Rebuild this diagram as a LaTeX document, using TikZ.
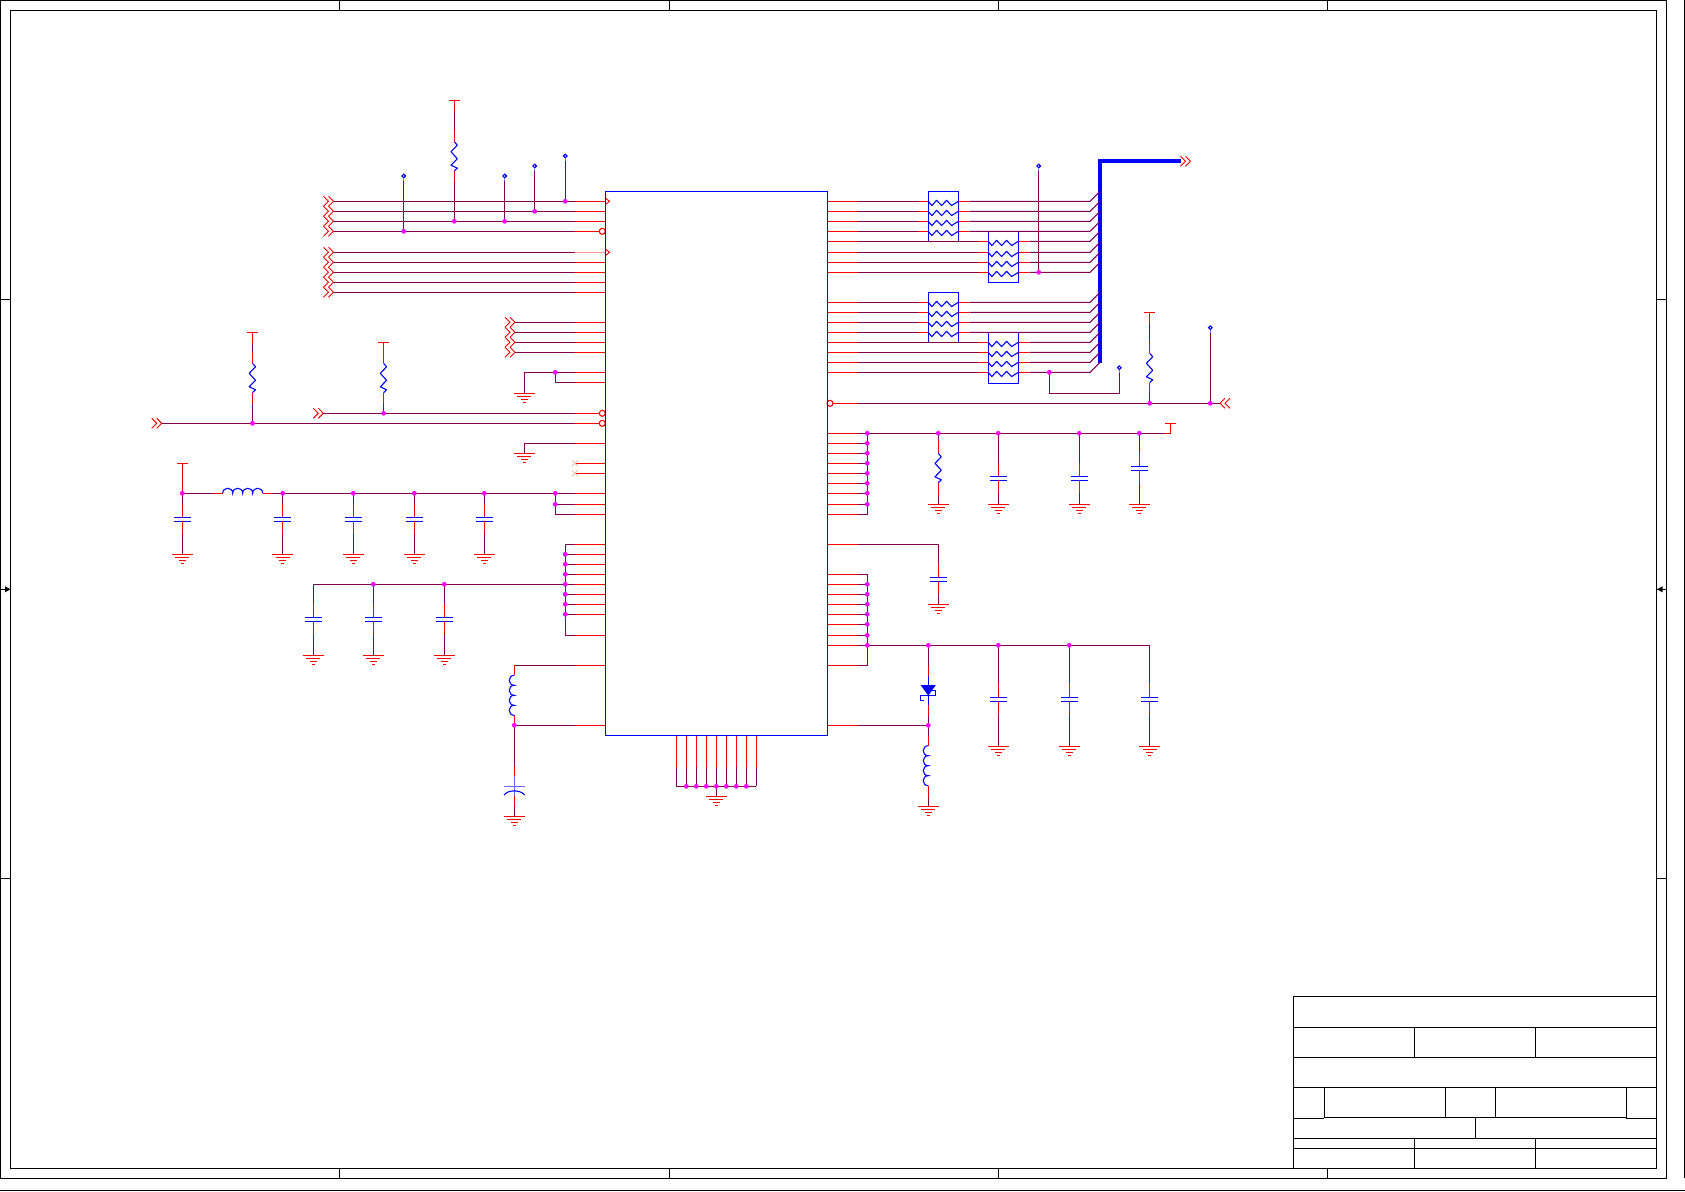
\documentclass[tikz,border=0pt]{standalone}
\usetikzlibrary{calc}
\pgfdeclarelayer{top}
\pgfsetlayers{main,top}
\definecolor{wirepurple}{HTML}{7F0050}
\definecolor{pinsalmon}{HTML}{FF9A9A}
\definecolor{juncpink}{RGB}{255,0,255}
\definecolor{pureblue}{RGB}{0,0,255}
\definecolor{purered}{RGB}{255,0,0}
\tikzset{
  rw/.style={draw=purered,line width=1.1pt},
  pw/.style={draw=wirepurple,line width=1.1pt,line join=miter},
  bw/.style={draw=pureblue,line width=1.1pt},
  fw/.style={draw=black,line width=1pt},
  junc/.style={circle,fill=juncpink,inner sep=0pt,outer sep=0pt,minimum size=4.8pt,draw=none},
  icbox/.style={draw=pureblue,line width=1.1pt,inner sep=0pt,outer sep=0pt,minimum width=222pt,minimum height=544pt,anchor=north west},
}
% red stub of n from A, purple from there to B
\newcommand\wrp[3]{\draw[rw] (#1) -- ($(#1)!#3pt!(#2)$) coordinate (tmpc); \draw[pw] (tmpc) -- (#2);}
% red n from A, purple, red m to B
\newcommand\wrpr[4]{\draw[rw] (#1) -- ($(#1)!#3pt!(#2)$) coordinate (tmpc); \draw[rw] (#2) -- ($(#2)!#4pt!(#1)$) coordinate (tmpd); \draw[pw] (tmpc) -- (tmpd);}
\newcommand\jn[3]{\coordinate (#1) at (#2,#3); \begin{pgfonlayer}{top}\node[junc] (d#1) at (#2,#3) {};\end{pgfonlayer}}
\newcommand\sGnd[3]{\coordinate (#1) at (#2,#3);
  \draw[rw,shift={(#2,#3)}] (-10.5,0)--(10.5,0) (-7,3)--(7,3) (-3.7,6)--(3.7,6) (-1.3,9)--(1.3,9);}
\newcommand\sPwr[3]{\coordinate (#1) at (#2,#3); \draw[rw,shift={(#2,#3)}] (-5.3,0)--(5.3,0);}
\newcommand\sCap[3]{\coordinate (#1t) at (#2,#3); \coordinate (#1b) at (#2,#3+4);
  \draw[bw,shift={(#2,#3)}] (-8.5,0)--(8.5,0) (-8.5,4)--(8.5,4);}
\newcommand\sRes[3]{\coordinate (#1t) at (#2,#3); \coordinate (#1b) at (#2,#3+29.3);
  \draw[bw,line join=round,shift={(#2,#3)}] (0,0)--(3,3.5)--(-3.3,10)--(3,17)--(-3.3,23.5)--(3,26.5)--(0,29.3);}
\newcommand\sProbe[3]{\coordinate (#1) at (#2,#3+5);
  \draw[bw,shift={(#2,#3)}] (0,0) circle[radius=1.8pt];
  \draw[draw=pureblue!55,line width=1pt,shift={(#2,#3)}] (0,1.8)--(0,5);}
\newcommand\sChevR[3]{\coordinate (#1) at (#2,#3);
  \draw[rw,line width=.95pt,shift={(#2,#3)}] (-10,-5)--(-5,0)--(-10,5) (-5,-5)--(0,0)--(-5,5);}
\newcommand\sChevL[3]{\coordinate (#1) at (#2,#3);
  \draw[rw,line width=.95pt,shift={(#2,#3)}] (5,-5)--(0,0)--(5,5) (10,-5)--(5,0)--(10,5);}
\newcommand\sIndH[3]{\coordinate (#1l) at (#2,#3); \coordinate (#1r) at (#2+40,#3);
  \draw[bw,shift={(#2,#3)}] (0,0) .. controls (0,-6.7) and (10,-6.7) .. (10,0) .. controls (10,-6.7) and (20,-6.7) .. (20,0) .. controls (20,-6.7) and (30,-6.7) .. (30,0) .. controls (30,-6.7) and (40,-6.7) .. (40,0);}
\newcommand\sIndV[3]{\coordinate (#1t) at (#2,#3); \coordinate (#1b) at (#2,#3+40);
  \draw[bw,shift={(#2,#3)}] (0,0) .. controls (-6.7,0) and (-6.7,10) .. (0,10) .. controls (-6.7,10) and (-6.7,20) .. (0,20) .. controls (-6.7,20) and (-6.7,30) .. (0,30) .. controls (-6.7,30) and (-6.7,40) .. (0,40);}
\newcommand\sWave[1]{\draw[bw,line join=round,shift={(#1)}] (0,0)--(3.5,4.3)--(8.3,-1)--(13.3,4.3)--(18.3,-1)--(23.3,4.3)--(30,0);}
% one row through a resistor pack: row, pack name
\newcommand\rnrow[2]{%
  \coordinate (rowl) at (#2l |- pr#1);
  \coordinate (rowr) at (#2r |- pr#1);
  \coordinate (rowe) at (busin |- pr#1);
  \draw[pw] (qr#1) -- ($(rowl)+(-10,0)$);
  \draw[rw] ($(rowl)+(-10,0)$) -- (rowl);
  \draw[rw] (rowr) -- ($(rowr)+(11,0)$);
  \draw[pw] ($(rowr)+(11,0)$) -- (rowe) -- ++(10,-10);
  \sWave{rowl}}
\begin{document}
\begin{tikzpicture}[x=1pt,y=-1pt]
\useasboundingbox (0,0) rectangle (1685,1191);
\fill[white] (0,0) rectangle (1685,1191);

%% frame
\draw[fw] (0.5,0.5) rectangle (1666.3,1178.3);
\draw[fw] (10.5,10.5) rectangle (1656.3,1168.3);
\draw[fw] (1684.5,0) -- (1684.5,1178);
\draw[fw] (0,1190.5) -- (1685,1190.5);
\foreach \x in {339.5,669.5,998.5,1327.3}{
  \draw[fw] (\x,0.5)--(\x,10.5);
  \draw[fw] (\x,1168.3)--(\x,1178.3);}
\foreach \y in {299,878}{
  \draw[fw] (0.5,\y)--(10.5,\y);
  \draw[fw] (1656.3,\y)--(1666.3,\y);}
\draw[fw] (0.5,589.3)--(11,589.3);
\fill[black] (5,586.3)--(10.5,589.3)--(5,592.3)--cycle;
\draw[fw] (1656.3,589.3)--(1666.3,589.3);
\fill[black] (1657,589.3)--(1662.5,586.3)--(1662.5,592.3)--cycle;

%% title block
\draw[fw] (1293.3,996.3) rectangle (1656.3,1168.3);
\draw[fw] (1293.3,1027.3)--(1656.3,1027.3);
\draw[fw] (1293.3,1057.3)--(1656.3,1057.3);
\draw[fw] (1293.3,1087.3)--(1656.3,1087.3);
\draw[fw] (1324.3,1117.3)--(1626.3,1117.3);
\draw[fw] (1293.3,1118.3)--(1324.3,1118.3);
\draw[fw] (1626.3,1118.3)--(1656.3,1118.3);
\draw[fw] (1293.3,1138.3)--(1656.3,1138.3);
\draw[fw] (1293.3,1148.3)--(1656.3,1148.3);
\draw[fw] (1414.3,1027.3)--(1414.3,1057.3);
\draw[fw] (1535.3,1027.3)--(1535.3,1057.3);
\draw[fw] (1324.3,1087.3)--(1324.3,1118.3);
\draw[fw] (1445.3,1087.3)--(1445.3,1117.3);
\draw[fw] (1495.3,1087.3)--(1495.3,1117.3);
\draw[fw] (1626.3,1087.3)--(1626.3,1118.3);
\draw[fw] (1475.3,1118.3)--(1475.3,1138.3);
\draw[fw] (1414.3,1138.3)--(1414.3,1168.3);
\draw[fw] (1535.3,1138.3)--(1535.3,1168.3);

%% pins
\foreach \y in {201,211,221,231,252,262,272,282,292,322,332,342,352,372,382,413,423,443,463,473,493,504,514,544,554,564,574,584,594,604,614,635,665,725}{
  \coordinate (pl\y) at (605.5,\y.3);
  \coordinate (ql\y) at (575,\y.3);
  \draw[rw] (pl\y)--(ql\y);}
\foreach \y in {201,211,221,231,241,252,262,272,302,312,322,332,342,352,362,372,403,433,443,453,463,473,483,493,504,514,544,574,584,594,604,614,624,635,645,665,725}{
  \coordinate (pr\y) at (827.5,\y.3);
  \coordinate (qr\y) at (858,\y.3);
  \draw[rw] (pr\y)--(qr\y);}
\draw[draw=pinsalmon,line width=1.1pt] (pl252)--(ql252);
\foreach \x in {676.3,686.3,696.3,706.3,716.3,726.3,736.3,746.3,756.3}{
  \draw[rw] (\x,735.5)--(\x,766.7);
  \draw[pw] (\x,766.7)--(\x,786.3);}

%% left buses
\foreach \y in {201,211,221,231,252,262,272,282,292}{
  \sChevR{c\y}{333.5}{\y.3}
  \draw[pw] (ql\y)--(c\y);}
\foreach \y in {322,332,342,352}{
  \sChevR{c\y}{515}{\y.3}
  \draw[pw] (ql\y)--(c\y);}
\sChevR{c413}{323.3}{413.3} \draw[pw] (ql413)--(c413);
\sChevR{c423}{161.7}{423.3} \draw[pw] (ql423)--(c423);
\foreach \y in {201,252}{
  \draw[rw,line width=.95pt] (605.5,\y.3-3.2)--(609.5,\y.3)--(605.5,\y.3+3.2);}
\foreach \y in {231,413,423}{
  \draw[rw,fill=white] (602.3,\y.3) circle[radius=3pt];}

%% probes and pull-up on top buses
\jn{ja}{403.7}{231.3} \sProbe{pa}{403.7}{176} \draw[pw] (pa)--(ja);
\jn{jb}{504.7}{221.3} \sProbe{pb}{504.7}{176} \draw[pw] (pb)--(jb);
\jn{jc}{534.7}{211.3} \sProbe{pc}{534.7}{166} \draw[pw] (pc)--(jc);
\jn{jd}{565.3}{201.3}   \sProbe{pd}{565.3}{156}   \draw[pw] (pd)--(jd);
\jn{je}{454.3}{221.3} \sPwr{te}{454.3}{100.3} \sRes{re}{454.3}{141.7}
\wrpr{te}{ret}{10.7}{11.5} \wrp{reb}{je}{10.7}

%% middle-left pull-ups
\jn{jf}{252.5}{423.3} \sPwr{tf}{252.5}{332.3} \sRes{rf}{252.5}{363.3}
\wrpr{tf}{rft}{10.5}{11.5} \wrp{rfb}{jf}{10.5}
\jn{jg}{383.6}{413.3} \sPwr{tg}{383.6}{342.3} \sRes{rg}{383.6}{363.3}
\draw[rw] (tg)--(rgt); \wrp{rgb}{jg}{10.5}

%% grounded pins
\jn{jh}{555.3}{372.3}
\coordinate (ca) at (555.3,382.3);
\coordinate (cb) at (524.3,372.3);
\sGnd{ga}{524.3}{393.3}
\draw[pw] (ql372)--(cb)--(ga);
\draw[pw] (jh)--(ca)--(ql382);
\coordinate (cc) at (524.3,443.3);
\sGnd{gb}{524.3}{453.3}
\draw[pw] (ql443)--(cc)--(gb);
\foreach \y in {463,473}{
  \draw[draw=brown!45,line width=.9pt] ($(ql\y)+(-3,-3)$)--($(ql\y)+(3,3)$) ($(ql\y)+(-3,3)$)--($(ql\y)+(3,-3)$);}

%% analog supply filter
\jn{ji}{182.3}{493.3} \sPwr{ti}{182.3}{463.3} \draw[rw] (ti)--(ji);
\sCap{ci}{182.3}{517.3} \sGnd{gi}{182.3}{554.3}
\wrp{cit}{ji}{13} \wrp{cib}{gi}{13}
\sIndH{li}{222.7}{493.3}
\wrp{lil}{ji}{10}
\jn{k1}{282.7}{493.3} \jn{k2}{353.3}{493.3} \jn{k3}{414.3}{493.3} \jn{k4}{484.3}{493.3} \jn{k5}{555.3}{493.3} \jn{k6}{555.3}{504.3}
\wrp{lir}{k1}{10}
\draw[pw] (k1)--(k2)--(k3)--(k4)--(k5)--(ql493);
\draw[pw] (k6)--(ql504);
\coordinate (k7) at (555.3,514.3);
\draw[pw] (k5)--(k7)--(ql514);
\foreach \n/\x in {k1/282.7,k2/353.3,k3/414.3,k4/484.3}{
  \sCap{c\n}{\x}{517.3} \sGnd{g\n}{\x}{554.3}
  \wrp{c\n t}{\n}{13} \wrp{c\n b}{g\n}{13}}

%% second supply group
\coordinate (m0) at (565.3,544.3);
\coordinate (m9) at (565.3,635.3);
\draw[pw] (ql544)--(m0)--(m9)--(ql635);
\foreach \y in {554,564,574,584,594,604,614}{
  \jn{m\y}{565.3}{\y.3}
  \draw[pw] (ql\y)--(m\y);}
\jn{n1}{373.3}{584.3} \jn{n2}{444.3}{584.3}
\coordinate (n0) at (313.3,584.3);
\draw[pw] (m584)--(n2)--(n1)--(n0);
\foreach \n/\x in {n0/313.3,n1/373.3,n2/444.3}{
  \sCap{c\n}{\x}{617.3} \sGnd{g\n}{\x}{655.7}
  \wrp{c\n t}{\n}{13} \wrp{c\n b}{g\n}{13}}

%% inductor and polar cap
\coordinate (pa1) at (514.3,665.3);
\draw[pw] (ql665)--(pa1);
\sIndV{lp}{514.3}{675.3}
\draw[rw] (pa1)--(lpt);
\jn{pa2}{514.3}{725.3}
\draw[rw] (lpb)--(pa2);
\draw[pw] (ql725)--(pa2);
\coordinate (pc1) at (514.3,776.3);
\coordinate (pc2) at (514.3,796.3);
\sGnd{gp}{514.3}{816.7}
\wrp{pc1}{pa2}{10}
\draw[draw=pureblue!60,line width=1.1pt] (pc1)--(pc2);
\draw[draw=pureblue!60,line width=1.1pt] (503.8,786.3)--(524.8,786.3);
\draw[bw] (504,795) .. controls (508,789.5) and (520.5,789.5) .. (524.6,795);
\wrp{pc2}{gp}{10}

%% bottom pins ground
\coordinate (bl) at (676.3,786.3);
\coordinate (br) at (756.3,786.3);
\draw[pw] (bl)--(br);
\foreach \x/\n in {686.3/1,696.3/2,706.3/3,716.3/4,726.3/5,736.3/6,746.3/7}{
  \jn{bt\n}{\x}{786.3}}
\sGnd{gbt}{716.3}{796.3}
\draw[pw] (bt4)--(gbt);

%% right: bus and resistor packs
\coordinate (busb) at (1099.5,363.3);
\coordinate (bust) at (1099.5,161.3);
\coordinate (buse) at (1180.5,161.3);
\coordinate (busin) at (1090,201.3);
\draw[draw=pureblue,line width=4pt] (busb)--(bust)--(buse);
\sChevR{cbus}{1190.5}{161.3}
\foreach \n/\xl/\yt/\yb in {rna/928.3/191.5/241.6,rnb/988.3/231.3/282.3,rnc/928.3/292.3/342.3,rnd/988.3/332.3/383.3}{
  \coordinate (\n l) at (\xl,\yt);
  \coordinate (\n r) at (\xl+30,\yt);
  \coordinate (\n b) at (\xl+30,\yb);
  \draw[bw] (\n l) rectangle (\n b);}
\foreach \y in {201,211,221,231}{\rnrow{\y}{rna}}
\foreach \y in {241,252,262,272}{\rnrow{\y}{rnb}}
\foreach \y in {302,312,322,332}{\rnrow{\y}{rnc}}
\foreach \y in {342,352,362,372}{\rnrow{\y}{rnd}}
\jn{jp}{1038.7}{272.3} \sProbe{pp}{1038.7}{166} \draw[pw] (pp)--(jp);
\jn{jq}{1049.3}{372.3} \sProbe{pq}{1119.3}{367.7}
\coordinate (q1) at (1049.3,393.3);
\coordinate (q2) at (1119.3,393.3);
\draw[pw] (jq)--(q1)--(q2)--(pq);

%% row 403
\sChevL{cr}{1220}{403.3}
\draw[pw] (qr403)--(cr);
\jn{jr1}{1149.7}{403.3} \jn{jr2}{1210.3}{403.3}
\sPwr{tr}{1149.7}{312.3} \sRes{rr}{1149.7}{353.3}
\wrpr{tr}{rrt}{10.5}{11.5} \wrp{rrb}{jr1}{10.5}
\sProbe{prr}{1210.3}{327.7} \draw[pw] (prr)--(jr2);
\draw[rw,fill=white] (830,403.3) circle[radius=3pt];

%% right supply group 1
\foreach \y in {433,443,453,463,473,483,493,504}{
  \jn{s\y}{867.3}{\y.3}
  \draw[pw] (qr\y)--(s\y);}
\coordinate (s514) at (867.3,514.3);
\draw[pw] (s433)--(s514)--(qr514);
\jn{u1}{938.3}{433.3} \jn{u2}{998.3}{433.3} \jn{u3}{1079.3}{433.3} \jn{u4}{1139.3}{433.3}
\coordinate (uc) at (1170.3,433.3);
\coordinate (ud) at (1165.3,433.3);
\sPwr{tu}{1170.3}{423.3}
\draw[pw] (s433)--(ud);
\draw[rw] (tu)--(uc)--(ud);
\sRes{ru}{938.3}{453.3} \sGnd{gu1}{938.3}{504.3}
\wrp{rut}{u1}{12} \wrp{rub}{gu1}{12}
\foreach \n/\x/\yc in {u2/998.3/476.3,u3/1079.3/476.3,u4/1139.3/466.3}{
  \sCap{c\n}{\x}{\yc} \sGnd{g\n}{\x}{504.3}
  \wrp{c\n t}{\n}{13} \wrp{c\n b}{g\n}{13}}

%% single cap row 544
\coordinate (v0) at (938.3,544.3);
\draw[pw] (qr544)--(v0);
\sCap{cv}{938.3}{577.3} \sGnd{gv}{938.3}{604.3}
\wrp{cvt}{v0}{14} \wrp{cvb}{gv}{13}

%% right supply group 2
\coordinate (w0) at (867.3,574.3);
\coordinate (w9) at (867.3,665.3);
\draw[pw] (qr574)--(w0)--(w9)--(qr665);
\foreach \y in {584,594,604,614,624,635,645}{
  \jn{w\y}{867.3}{\y.3}
  \draw[pw] (qr\y)--(w\y);}
\jn{x1}{928.3}{645.3} \jn{x2}{998.3}{645.3} \jn{x3}{1069.3}{645.3}
\coordinate (x4) at (1149.7,645.3);
\draw[pw] (w645)--(x1)--(x2)--(x3)--(x4);
\foreach \n/\x in {x2/998.3,x3/1069.3,x4/1149.7}{
  \sCap{c\n}{\x}{697.3} \sGnd{g\n}{\x}{746.3}
  \wrp{c\n t}{\n}{14} \wrp{c\n b}{g\n}{13}}

%% zener and inductor
\jn{z0}{928.3}{725.3}
\draw[pw] (qr725)--(z0);
\coordinate (z1) at (928.3,676);
\coordinate (z2) at (928.3,705);
\wrp{z1}{x1}{10}
\wrp{z2}{z0}{11}
\draw[bw] (z1)--(z2);
\fill[pureblue] (920.6,685)--(935.8,685)--(928.3,695.7)--cycle;
\draw[bw] (924.3,700.2)--(920.8,700.2)--(920.8,695.7)--(935.5,695.7)--(935.5,690.3)--(931.7,690.3);
\sIndV{lz}{928.3}{745.7}
\sGnd{gz}{928.3}{806.3}
\wrp{lzt}{z0}{10}
\wrp{lzb}{gz}{12}

%% the IC last, so its outline stays on top
\node[icbox] (ic) at (605.5,191.5) {};
\end{tikzpicture}
\end{document}
